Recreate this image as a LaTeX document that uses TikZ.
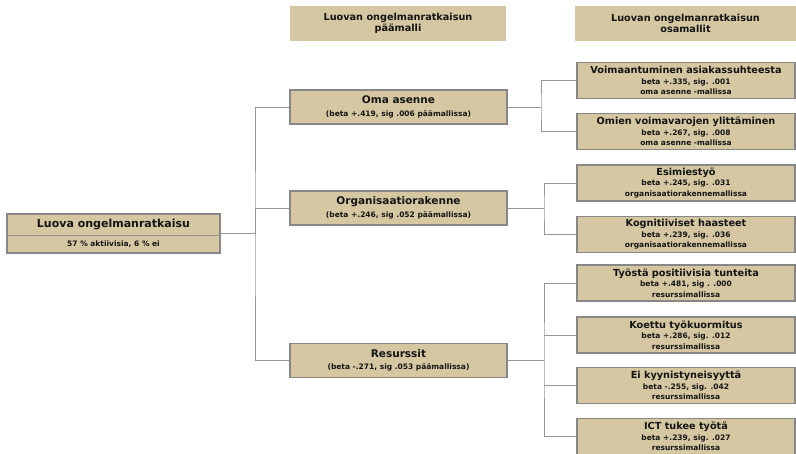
\documentclass[tikz,border=0pt]{standalone}
\usepackage{fontspec}
\setmainfont{DejaVu Sans}
\definecolor{boxfill}{RGB}{213,199,161}
\definecolor{boxline}{RGB}{135,135,135}
\definecolor{linkline}{RGB}{150,150,150}
\definecolor{txt}{RGB}{20,20,20}
\newcommand{\bigt}{\fontsize{10.5}{12}\selectfont\bfseries}
\newcommand{\midt}{\fontsize{9.7}{10.5}\selectfont\bfseries}
\newcommand{\smallt}{\fontsize{7.5}{8.6}\selectfont\bfseries}
\tikzset{
  box/.style={draw=boxline, line width=1.2pt, fill=boxfill, inner sep=0pt, text=txt, align=center},
  mainbox/.style={box, minimum width=217, minimum height=34},
  subbox/.style={box, minimum width=218, minimum height=36},
  headbox/.style={fill=boxfill, inner sep=0pt, text=txt, align=center, minimum height=35},
  link/.style={draw=linkline, line width=1pt}
}
\begin{document}
\begin{tikzpicture}[x=1pt,y=-1pt]
\useasboundingbox (0,0) rectangle (796,453);

% column headings
\node[headbox, minimum width=216] (h1) at (398,23.5) {\midt Luovan ongelmanratkaisun\\[-1pt]\midt päämalli};
\node[headbox, minimum width=221] (h2) at (685.5,23.5) {\midt Luovan ongelmanratkaisun\\[-1pt]\midt osamallit};

% root
\node[box, minimum width=213, minimum height=39] (root) at (113.5,233.5) {};
\draw[draw=boxline!80!boxfill, line width=0.6pt] ([yshift=-1.5pt]root.west) -- ([yshift=-1.5pt]root.east);
\node[text=txt] (roott) at (113.5,225) {\fontsize{11}{13}\selectfont\bfseries Luova ongelmanratkaisu};
\node[text=txt] (roots) at (113.5,244) {\smallt 57 \% aktiivisia, 6 \% ei};

% main model factors
\node[mainbox] (oma) at (398.5,107) {\bigt Oma asenne\\[0.5pt]\smallt (beta +.419, sig .006 päämallissa)};
\node[mainbox] (org) at (398.5,208) {\bigt Organisaatiorakenne\\[0.5pt]\smallt (beta +.246, sig .052 päämallissa)};
\node[mainbox] (res) at (398.5,360.5) {\bigt Resurssit\\[0.5pt]\smallt (beta -.271, sig .053 päämallissa)};

% sub-model factors
\node[subbox] (s1) at (686,80.5) {\midt Voimaantuminen asiakassuhteesta\\[-1.5pt]\smallt beta +.335, sig. .001\\[-1.5pt]\smallt oma asenne -mallissa};
\node[subbox] (s2) at (686,131.5) {\midt Omien voimavarojen ylittäminen\\[-1.5pt]\smallt beta +.267, sig. .008\\[-1.5pt]\smallt oma asenne -mallissa};
\node[subbox] (s3) at (686,183) {\midt Esimiestyö\\[-1.5pt]\smallt beta +.245, sig. .031\\[-1.5pt]\smallt organisaatiorakennemallissa};
\node[subbox] (s4) at (686,234.5) {\midt Kognitiiviset haasteet\\[-1.5pt]\smallt beta +.239, sig. .036\\[-1.5pt]\smallt organisaatiorakennemallissa};
\node[subbox] (s5) at (686,283) {\midt Työstä positiivisia tunteita\\[-1.5pt]\smallt beta +.481, sig . .000\\[-1.5pt]\smallt resurssimallissa};
\node[subbox] (s6) at (686,335) {\midt Koettu työkuormitus\\[-1.5pt]\smallt beta +.286, sig. .012\\[-1.5pt]\smallt resurssimallissa};
\node[subbox] (s7) at (686,385.5) {\midt Ei kyynistyneisyyttä\\[-1.5pt]\smallt beta -.255, sig. .042\\[-1.5pt]\smallt resurssimallissa};
\node[subbox] (s8) at (686,436.5) {\midt ICT tukee työtä\\[-1.5pt]\smallt beta +.239, sig. .027\\[-1.5pt]\smallt resurssimallissa};

% connectors: root to main factors
\coordinate (sp) at (255,233.5);
\draw[link] (root.east) -- (sp);
\draw[link] (oma.west) -| (sp) |- (res.west);
\draw[link] (sp) |- (org.west);

% connectors: main factors to sub-model factors
\draw[link] (oma.east) -- (541,107);
\draw[link] (s1.west) -| (541,107) |- (s2.west);
\draw[link] (org.east) -- (544,208);
\draw[link] (s3.west) -| (544,208) |- (s4.west);
\draw[link] (res.east) -- (544,360.5);
\draw[link] (s5.west) -| (544,360.5) |- (s8.west);
\draw[link] (544,335) -- (s6.west);
\draw[link] (544,385.5) -- (s7.west);
\end{tikzpicture}
\end{document}
